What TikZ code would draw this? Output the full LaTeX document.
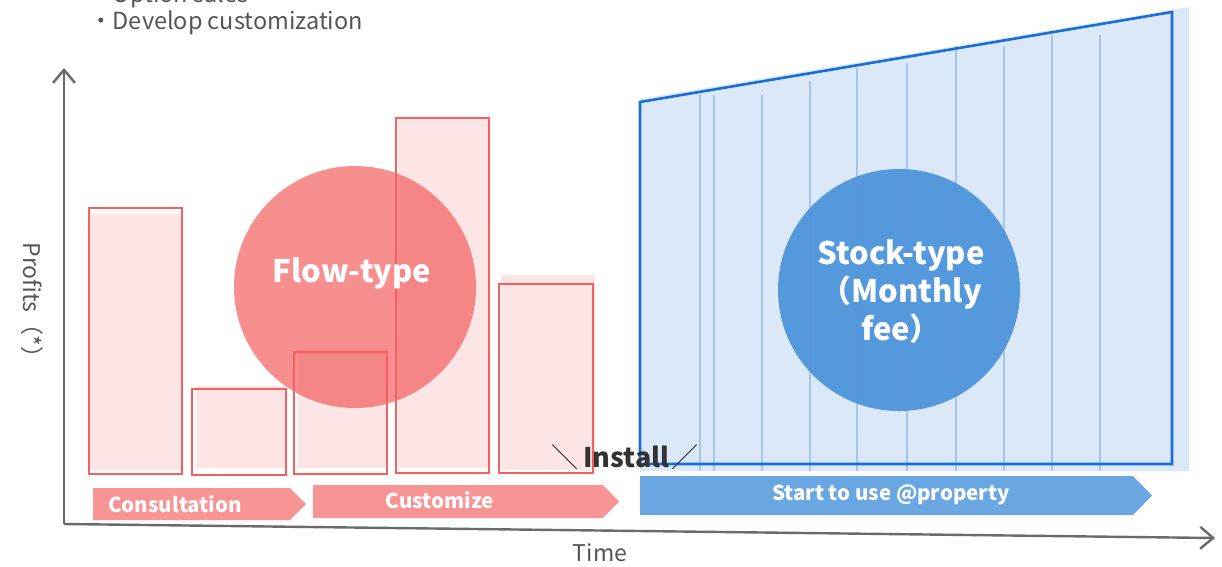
\documentclass[tikz,border=0pt]{standalone}
\usepackage{fontspec}
\setmainfont{Noto Sans CJK JP}
\usetikzlibrary{arrows.meta}

\definecolor{axisgrey}{HTML}{6A6A6A}
\definecolor{textgrey}{HTML}{555555}
\definecolor{darktext}{HTML}{333333}
\definecolor{barred}{HTML}{F55F5F}
\definecolor{barpink}{HTML}{FDE5E5}
\definecolor{flowred}{HTML}{F45A5A}
\definecolor{pinkarrow}{HTML}{F99494}
\definecolor{stockline}{HTML}{1A6ED8}
\definecolor{stockfill}{HTML}{DAE8F7}
\definecolor{gridblue}{HTML}{5A8FDC}
\definecolor{stockdisc}{HTML}{5499DC}
\definecolor{bluearrow}{HTML}{6AA6E2}

\begin{document}
\begin{tikzpicture}[x=1pt,y=-1pt,
  axisline/.style={draw=axisgrey,line width=2.4pt,line join=round,
    -{Straight Barb[length=13pt,width=22pt,line width=2.4pt]}},
  barfill/.style={fill=barpink},
  barline/.style={draw=barred,line width=2.6pt},
  phasepink/.style={fill=pinkarrow},
  phaseblue/.style={fill=bluearrow},
  phaselabel/.style={text=white,font=\fontsize{20.5}{20.5}\selectfont\bfseries,inner sep=0pt},
  disctext/.style={text=white,font=\fontsize{31}{38}\selectfont\bfseries,inner sep=0pt,align=center},
  gridrule/.style={draw=gridblue,draw opacity=0.4,line width=1.1pt},
  axislabel/.style={text=textgrey,font=\fontsize{23}{23}\selectfont,inner sep=0pt}
]
\useasboundingbox (0,0) rectangle (1222,566);

% notes above the chart
\node[axislabel,anchor=base west,font=\fontsize{23.5}{23.5}\selectfont] (note1) at (89,2.5) {・Option sales};
\node[axislabel,anchor=base west,font=\fontsize{23.5}{23.5}\selectfont] (note2) at (89,29) {・Develop customization};

% stock-type area
\fill[stockfill] (640,99) -- (1189,7) -- (1189,471) -- (640,471) -- cycle;
\node[circle,fill=stockdisc,minimum size=242pt,inner sep=0pt] (stockdisc) at (899,290) {};
\foreach \gx/\gy in {700/94,714/95,762/95,810/81,857/68,907/63,956/46,1004/46,1052/35,1100/35}
  \draw[gridrule] (\gx,\gy) -- (\gx,471);
\draw[draw=stockline,line width=2.6pt,line join=miter] (640,102) -- (1172,12) -- (1172,464) -- (640,464) -- cycle;
\node[disctext] (stocktext) at (901,292) {Stock-type\\（Monthly\\fee）};

% flow-type bars
\fill[barfill] (90,214) rectangle (181,470);
\fill[barfill] (196,386) rectangle (287,468);
\fill[barfill] (298,350) rectangle (387,468);
\fill[barfill] (398,117) rectangle (489,468);
\fill[barfill] (501,275) rectangle (595,470);
\node[circle,fill=flowred,fill opacity=0.68,minimum size=242pt,inner sep=0pt] (flowdisc) at (355,287) {};
\draw[barline] (89,208) rectangle (182,474);
\draw[barline] (192,389) rectangle (286,475);
\draw[barline] (294,352) rectangle (387,474);
\draw[barline] (396,118) rectangle (489,473);
\draw[barline] (499,284) rectangle (593,473);
\node[disctext] (flowtext) at (352,274) {Flow-type};

% install marker
\node[text=darktext,inner sep=0pt,anchor=base,font=\fontsize{27}{27}\selectfont] (install) at (625,467)
  {＼\kern5pt\textbf{Install}\kern2pt／};

% phase arrows
\fill[phasepink] (93,488) -- (290,488) -- (306,504) -- (290,520) -- (93,520) -- cycle;
\node[phaselabel] (consult) at (175,504) {Consultation};
\fill[phasepink] (313,485) -- (603,485) -- (619,501.5) -- (603,518) -- (313,518) -- cycle;
\node[phaselabel] (custom) at (440,500) {Customize};
\fill[phaseblue] (640,476) -- (1133,476) -- (1152,495.5) -- (1133,515) -- (640,515) -- cycle;
\node[phaselabel] (startuse) at (891,495) {Start to use @property};

% axes
\coordinate (origin) at (64,524);
\coordinate (ytip) at (64,68);
\coordinate (xtip) at (1215,538);
\draw[axisline] (origin) -- (ytip);
\draw[axisline] (origin) -- (xtip);
\node[axislabel] (timelabel) at (600,553) {Time};
\node[axislabel,rotate=-90] (profitlabel) at (32,306) {Profits（*）};
\end{tikzpicture}
\end{document}
